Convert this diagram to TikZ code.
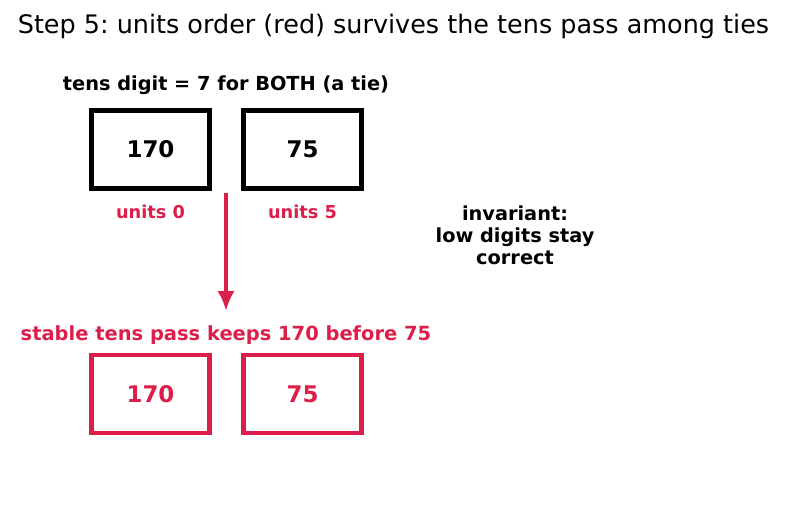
\documentclass[tikz,border=0pt]{standalone}
\usepackage{fontspec}
\setmainfont{DejaVu Sans}
\usetikzlibrary{arrows.meta}
\frenchspacing
\begin{document}
\begin{tikzpicture}[x=0.75pt,y=-0.75pt]
        % Define colors
        \definecolor{tiered}{RGB}{220,30,75} % crimson
    
        % Styles
        \tikzset{
            digitbox/.style={draw, line width=3.4pt, minimum width=88.5pt, minimum height=58.5pt, inner sep=0pt, font=\fontsize{17.2}{20}\selectfont\bfseries},
            unitlabel/.style={text=tiered, font=\fontsize{13.3}{15}\selectfont\bfseries},
            notelabel/.style={font=\fontsize{14.5}{16.5}\selectfont\bfseries, align=center}
        }
    
        % Page frame
        \useasboundingbox (0,0) rectangle (787,512);
    
        % Title
        \node (title) at (393.5,26) {\fontsize{19.1}{22}\selectfont Step 5: units order (red) survives the tens pass among ties};
    
        % Top row: the tie on the tens digit
        \node[notelabel] (tie) at (226,85) {tens digit = 7 for BOTH (a tie)};
        \node[digitbox] (topA) at (150.5,149.5) {170};
        \node[digitbox] (topB) at (302.5,149.5) {75};
        \node[unitlabel] (unitsA) at (150.5,212) {units 0};
        \node[unitlabel] (unitsB) at (302.5,212) {units 5};
    
        % Invariant note
        \node[notelabel] (invariant) at (515,235) {invariant:\\low digits stay\\correct};
    
        % Arrow down to the stable pass
        \coordinate (from) at (226,193);
        \node[unitlabel, font=\fontsize{14.6}{16}\selectfont\bfseries] (stable) at (226,335) {stable tens pass keeps 170 before 75};
        \coordinate (to) at (226,311);
        \draw[-{Latex[length=15pt,width=13pt]}, tiered, line width=3pt] (from) -- (to);
    
        % Bottom row: order kept
        \node[digitbox, draw=tiered, text=tiered] (botA) at (150.5,394) {170};
        \node[digitbox, draw=tiered, text=tiered] (botB) at (302.5,394) {75};
    \end{tikzpicture}
\end{document}
